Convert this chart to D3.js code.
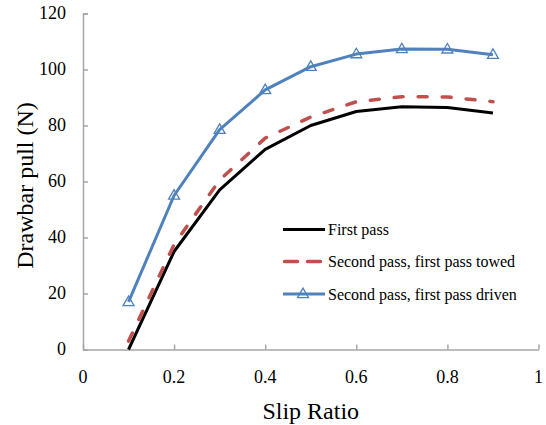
<!DOCTYPE html>
<html>
<head>
<meta charset="utf-8">
<script src="https://cdn.jsdelivr.net/npm/d3@7/dist/d3.min.js"></script>
<style>
  html, body { margin: 0; padding: 0; background: #fff; }
  svg { display: block; font-family: "Liberation Serif", "Times New Roman", serif; }
</style>
</head>
<body>
<svg id="chart" width="546" height="425"></svg>
<script>
// Drawbar pull against slip ratio for three pass conditions
const slipRatio = [0.1, 0.2, 0.3, 0.4, 0.5, 0.6, 0.7, 0.8, 0.9];
const firstPass = [0, 35, 57, 71.5, 80, 85, 86.7, 86.4, 84.5];
const secondTowed = [3, 37.5, 60.5, 75.5, 83, 88.5, 90.3, 90.2, 88.5];
const secondDriven = [17, 55, 78.5, 92.7, 101, 105.5, 107.3, 107.2, 105.3];

const xTicks = [0, 0.2, 0.4, 0.6, 0.8, 1];
const yTicks = [0, 20, 40, 60, 80, 100, 120];

const seriesNames = ["First pass", "Second pass, first pass towed", "Second pass, first pass driven"];

const svg = d3.select("#chart");

const x = d3.scaleLinear().domain([0, 1]).range([83, 538.5]);
const y = d3.scaleLinear().domain([0, 120]).range([349.5, 13.5]);

const axisColor = "#a6a6a6";

// Y axis (ticks point into the plot)
const yAxis = svg.append("g")
  .attr("transform", `translate(${x(0)},0)`)
  .call(d3.axisRight(y).tickValues(yTicks).tickSize(5).tickFormat(""));
yAxis.select(".domain").attr("stroke", axisColor).attr("stroke-width", 1.5);
yAxis.selectAll(".tick line").attr("stroke", axisColor).attr("stroke-width", 1.5);

svg.append("g").selectAll("text")
  .data(yTicks)
  .join("text")
  .attr("x", 66)
  .attr("y", d => y(d))
  .attr("dy", "0.33em")
  .attr("text-anchor", "end")
  .attr("font-size", 18)
  .attr("fill", "#000")
  .text(d => d);

// X axis (ticks point up into the plot)
const xAxis = svg.append("g")
  .attr("transform", `translate(0,${y(0)})`)
  .call(d3.axisTop(x).tickValues(xTicks).tickSize(5).tickSizeOuter(0).tickFormat(""));
xAxis.select(".domain").attr("stroke", axisColor).attr("stroke-width", 1.5);
xAxis.selectAll(".tick line").attr("stroke", axisColor).attr("stroke-width", 1.5);

svg.append("g").selectAll("text")
  .data(xTicks)
  .join("text")
  .attr("x", d => x(d))
  .attr("y", 383)
  .attr("text-anchor", "middle")
  .attr("font-size", 18)
  .attr("fill", "#000")
  .text(d => d3.format("~g")(d));

// Axis titles
svg.append("text")
  .attr("x", (x(0) + x(1)) / 2)
  .attr("y", 418.5)
  .attr("text-anchor", "middle")
  .attr("font-size", 24)
  .attr("fill", "#000")
  .text("Slip Ratio");

svg.append("text")
  .attr("transform", `translate(33,${(y(0) + y(120)) / 2 + 4}) rotate(-90)`)
  .attr("text-anchor", "middle")
  .attr("font-size", 24)
  .attr("fill", "#000")
  .text("Drawbar pull (N)");

// Series lines
const styles = [
  { color: "#000000", width: 3, dash: null, cap: "butt", marker: false },
  { color: "#c0504d", width: 3.5, dash: "9,15", cap: "round", marker: false },
  { color: "#4f81bd", width: 3, dash: null, cap: "butt", marker: true }
];
const values = [firstPass, secondTowed, secondDriven];

const line = d3.line().x(d => x(d[0])).y(d => y(d[1]));
const tri = d3.symbol().type(d3.symbolTriangle).size(52);

values.forEach((vals, i) => {
  const s = styles[i];
  const pts = slipRatio.map((r, k) => [r, vals[k]]);
  svg.append("path")
    .datum(pts)
    .attr("d", line)
    .attr("fill", "none")
    .attr("stroke", s.color)
    .attr("stroke-width", s.width)
    .attr("stroke-linejoin", "round")
    .attr("stroke-linecap", s.cap)
    .attr("stroke-dasharray", s.dash);
  if (s.marker) {
    svg.append("g").selectAll("path")
      .data(pts)
      .join("path")
      .attr("d", tri)
      .attr("transform", d => `translate(${x(d[0])},${y(d[1]) + 0.5})`)
      .attr("fill", "none")
      .attr("stroke", s.color)
      .attr("stroke-width", 1.3);
  }
});

// Legend
const legend = svg.append("g");
const legendRows = [229.5, 261.5, 294];
seriesNames.forEach((name, i) => {
  const s = styles[i];
  const ly = legendRows[i];
  legend.append("line")
    .attr("x1", 283).attr("x2", 325)
    .attr("y1", ly).attr("y2", ly)
    .attr("stroke", s.color)
    .attr("stroke-width", s.width)
    .attr("stroke-linecap", s.cap)
    .attr("stroke-dasharray", s.dash ? "13,10" : null)
    .attr("stroke-dashoffset", s.dash ? -1.5 : null);
  if (s.marker) {
    legend.append("path")
      .attr("d", tri)
      .attr("transform", `translate(303,${ly + 0.5})`)
      .attr("fill", "none")
      .attr("stroke", s.color)
      .attr("stroke-width", 1.3);
  }
  legend.append("text")
    .attr("x", 328)
    .attr("y", ly + 5.5)
    .attr("font-size", 16)
    .attr("fill", "#000")
    .text(name);
});
</script>
</body>
</html>
